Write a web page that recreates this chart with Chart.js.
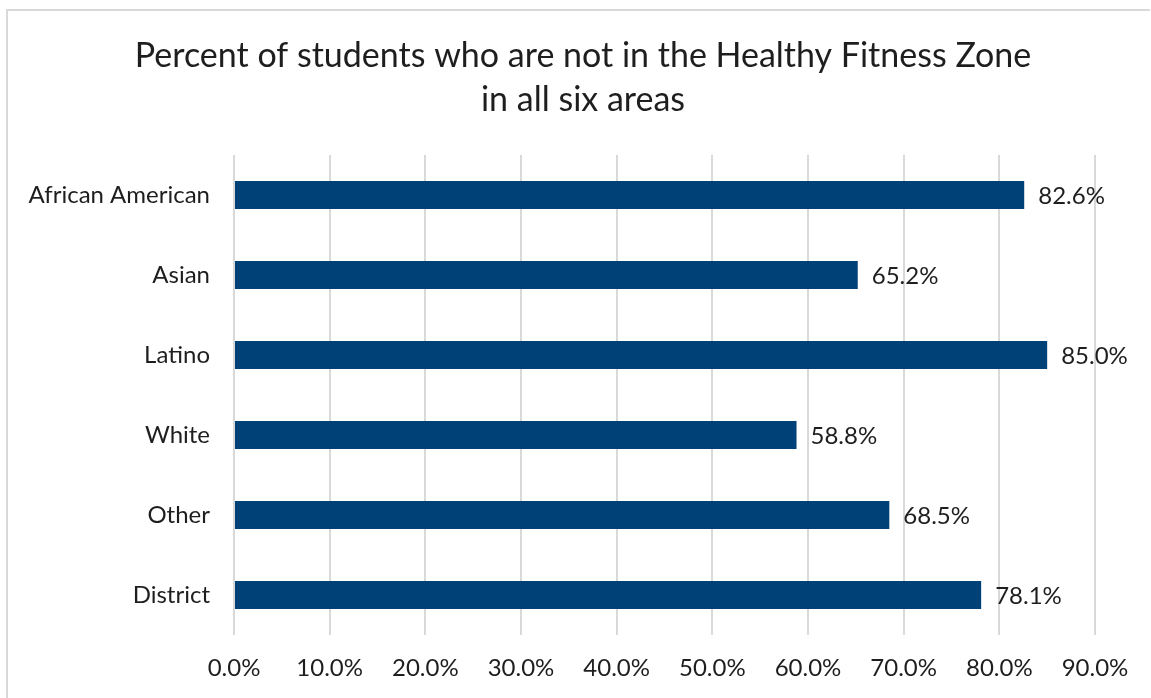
<!DOCTYPE html>
<html>
<head>
<meta charset="utf-8">
<script src="https://cdn.jsdelivr.net/npm/chart.js@4"></script>
<style>
html,body{margin:0;padding:0;background:#fff;overflow:hidden;}
#wrap{position:absolute;left:0;top:0;width:1151px;height:698px;}
</style>
</head>
<body>
<div id="wrap"><canvas id="c" width="1151" height="698"></canvas></div>
<script>
const titleLines = ["Percent of students who are not in the Healthy Fitness Zone", "in all six areas"];
const categories = ["African American", "Asian", "Latino", "White", "Other", "District"];
const values = [82.6, 65.2, 85.0, 58.8, 68.5, 78.1];
const xMin = 0, xMax = 90, xStep = 10;

const FONT = "Lato, 'Open Sans', sans-serif";
const TEXT = "#1e1e1e";

const decor = {
  id: 'decor',
  beforeDraw(chart) {
    const ctx = chart.ctx;
    ctx.save();
    ctx.fillStyle = '#fff';
    ctx.fillRect(0, 0, chart.width, chart.height);
    ctx.strokeStyle = '#d9d9d9';
    ctx.lineWidth = 2;
    ctx.beginPath();
    ctx.moveTo(7, 710);
    ctx.lineTo(7, 10);
    ctx.lineTo(1150, 10);
    ctx.stroke();
    ctx.restore();
  },
  afterDraw(chart) {
    const ctx = chart.ctx;
    ctx.save();
    ctx.fillStyle = TEXT;
    ctx.textAlign = 'center';
    ctx.textBaseline = 'middle';
    ctx.font = "34px " + FONT;
    ctx.fillText(titleLines[0], 583, 56);
    ctx.fillText(titleLines[1], 583, 100);
    // data labels
    ctx.font = "24px " + FONT;
    ctx.textAlign = 'left';
    const meta = chart.getDatasetMeta(0);
    meta.data.forEach((bar, i) => {
      ctx.fillText(values[i].toFixed(1) + '%', bar.x + 14, bar.y + 1);
    });
    ctx.restore();
  }
};

new Chart(document.getElementById('c'), {
  type: 'bar',
  data: {
    labels: categories,
    datasets: [{
      data: values,
      backgroundColor: '#004178',
      borderWidth: 0,
      barPercentage: 0.35,
      categoryPercentage: 1.0
    }]
  },
  options: {
    indexAxis: 'y',
    responsive: false,
    animation: false,
    devicePixelRatio: 1,
    layout: { padding: { top: 155, right: 56, left: 0, bottom: 0 } },
    plugins: { legend: { display: false }, title: { display: false }, tooltip: { enabled: false } },
    scales: {
      x: {
        min: xMin, max: xMax,
        ticks: {
          stepSize: xStep,
          color: TEXT,
          font: { family: FONT, size: 24 },
          padding: 19,
          callback: v => Number(v).toFixed(1) + '%'
        },
        grid: { color: '#d9d9d9', lineWidth: 2, drawTicks: false },
        border: { display: false },
        afterFit(s) { s.height = 63; }
      },
      y: {
        ticks: {
          color: TEXT,
          font: { family: FONT, size: 24 },
          padding: 24
        },
        grid: { display: false, drawTicks: false },
        border: { display: false },
        afterFit(s) { s.width = 234; }
      }
    }
  },
  plugins: [decor]
});
</script>
</body>
</html>
